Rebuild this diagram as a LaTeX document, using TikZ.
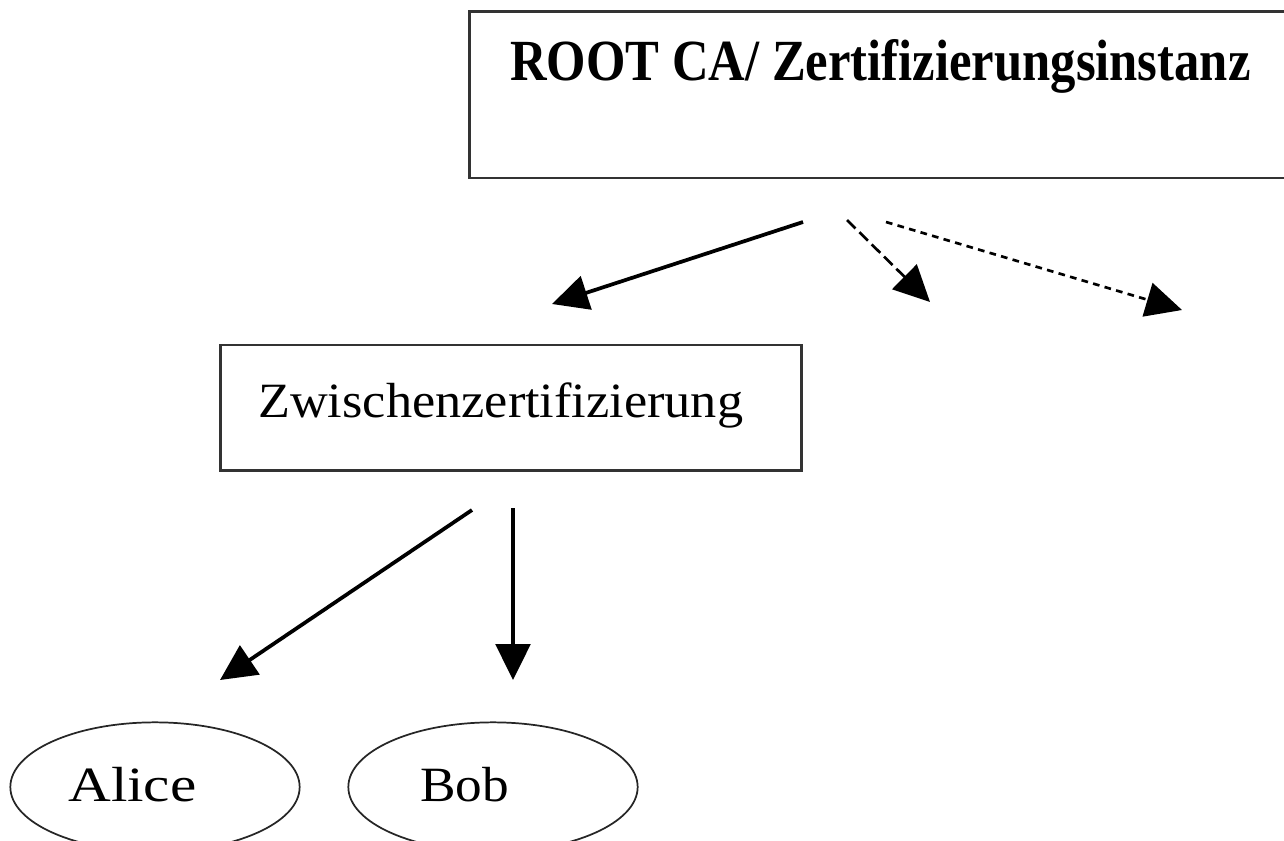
\documentclass[tikz,border=0pt]{standalone}
\usepackage{fontspec}
\setmainfont{Liberation Serif}
\usetikzlibrary{arrows.meta,shapes.geometric}
\begin{document}
\begin{tikzpicture}[x=0.75pt,y=-0.75pt,
  boxstyle/.style={draw=black!80, line width=2pt, fill=white, inner sep=0pt},
  ovalstyle/.style={draw=black!85, line width=1.3pt, ellipse, minimum width=217pt, minimum height=97pt, inner sep=0pt},
  conn/.style={line width=2.8pt, -{Triangle[length=27pt,width=26pt]}},
  dconn/.style={line width=2pt, -{Triangle[length=27pt,width=26pt]}},
  lbl/.style={inner sep=0pt, anchor=base west}]
\useasboundingbox (0,0) rectangle (1284,840);
\fill[white] (0,0) rectangle (1284,840);
% boxes
\node[boxstyle, minimum width=622pt, minimum height=125pt] (root) at (884,94.5) {};
\node[lbl] (roottext) at (510,80) {\fontsize{38}{40}\selectfont\scalebox{1}[1.15]{\bfseries ROOT CA/ Zertifizierungsinstanz}};
\node[boxstyle, minimum width=436pt, minimum height=94pt] (zw) at (511,407.5) {};
\node[lbl] (zwtext) at (258,417) {\fontsize{37}{40}\selectfont\scalebox{1.06}[1]{Zwischenzertifizierung}};
% ellipses
\node[ovalstyle] (alice) at (155,787) {};
\node[lbl] (alicetext) at (68,801) {\fontsize{37}{40}\selectfont\scalebox{1.2}[1]{Alice}};
\node[ovalstyle] (bob) at (493,787) {};
\node[lbl] (bobtext) at (420,801) {\fontsize{37}{40}\selectfont\scalebox{1.08}[1]{Bob}};
% connector end points
\coordinate (a1s) at (803,222);
\coordinate (a1e) at (552,304);
\coordinate (a2s) at (847,220);
\coordinate (a2e) at (930,302);
\coordinate (a3s) at (886,222);
\coordinate (a3e) at (1182,310);
\coordinate (a4s) at (472,510);
\coordinate (a4e) at (220,680);
\coordinate (a5s) at (513,508);
\coordinate (a5e) at (513,680);
% connectors
\draw[conn] (a1s) -- (a1e);
\draw[dconn, dash pattern=on 9pt off 4pt] (a2s) -- (a2e);
\draw[dconn, dash pattern=on 5pt off 4pt] (a3s) -- (a3e);
\draw[conn] (a4s) -- (a4e);
\draw[conn] (a5s) -- (a5e);
\end{tikzpicture}
\end{document}
